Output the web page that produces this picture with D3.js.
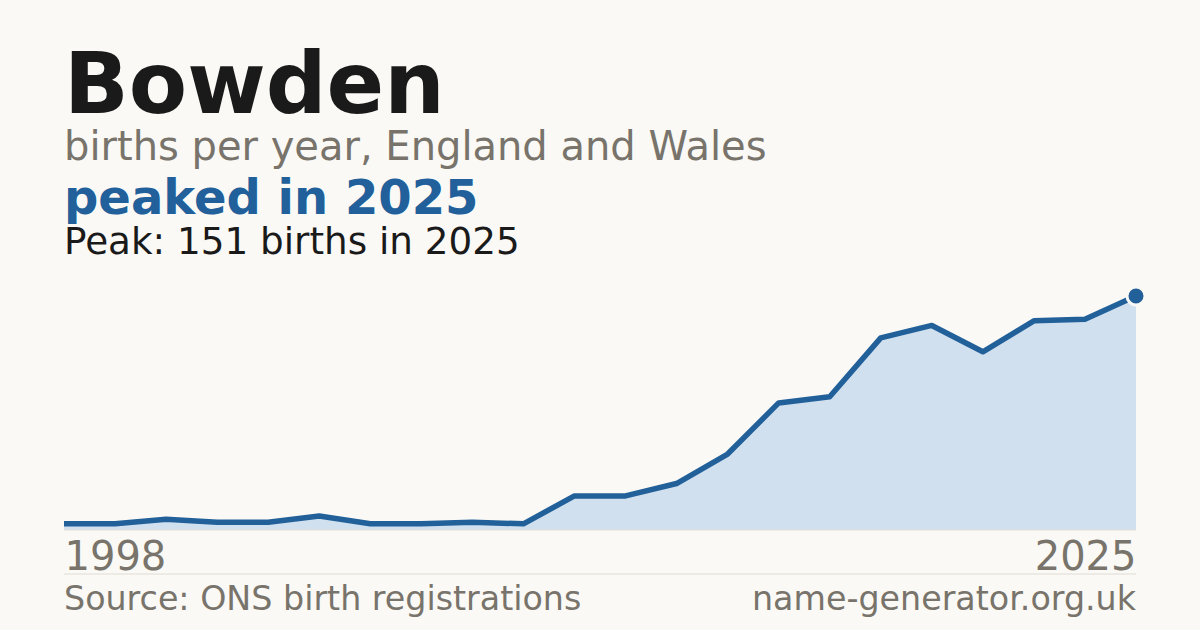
<!DOCTYPE html>
<html>
<head>
<meta charset="utf-8">
<script src="https://cdn.jsdelivr.net/npm/d3@7"></script>
<style>
  html, body { margin: 0; padding: 0; background: #faf9f5; }
  svg { display: block; font-family: 'DejaVu Sans', sans-serif; }
</style>
</head>
<body>
<svg width="1200" height="630"></svg>
<script>
const w = 1200;
const h = 630;
const left = 64;
const right = 1136;
const baseY = 530;
const topY = 296;

// years shown on the chart (only the first and last get a label)
const years = [1998, 2000, 2002, 2004, 2006, 2008, 2010, 2011, 2012, 2013, 2014,
  2015, 2016, 2017, 2018, 2019, 2020, 2021, 2022, 2023, 2024, 2025];
const births = [4, 4, 7, 5, 5, 9, 4, 4, 5, 4, 22, 22, 30, 49, 82, 86, 124, 132, 115, 135, 136, 151];
const tickYears = [1998, 2025];

const title = 'Bowden';
const subtitle = 'births per year, England and Wales';
const headline = 'peaked in 2025';
const peakNote = 'Peak: 151 births in 2025';

const canvas = d3.select('svg').attr('width', w).attr('height', h);

canvas.append('rect').attr('width', w).attr('height', h).attr('fill', '#faf9f5');

const xScale = d3.scalePoint().domain(years).range([left, right]);
const yScale = d3.scaleLinear().domain([0, d3.max(births)]).range([baseY, topY]);

const data = years.map((y, i) => ({ year: y, value: births[i] }));

// headings
canvas.append('text').attr('x', left).attr('y', 113)
  .attr('font-size', 85).attr('font-weight', 'bold').attr('fill', '#1a1a1a').text(title);
canvas.append('text').attr('x', left).attr('y', 160)
  .attr('font-size', 40).attr('fill', '#78736b').text(subtitle);
canvas.append('text').attr('x', left).attr('y', 214)
  .attr('font-size', 48).attr('font-weight', 'bold').attr('fill', '#21609a').text(headline);
canvas.append('text').attr('x', left).attr('y', 254)
  .attr('font-size', 37.3).attr('fill', '#1a1a1a').text(peakNote);

// area + line
const area = d3.area()
  .x((d) => xScale(d.year))
  .y0(baseY)
  .y1((d) => yScale(d.value));

const line = d3.line()
  .x((d) => xScale(d.year))
  .y((d) => yScale(d.value));

canvas.append('path').datum(data).attr('d', area).attr('fill', '#d0e0ef');

canvas.append('line')
  .attr('x1', left).attr('x2', right).attr('y1', baseY).attr('y2', baseY)
  .attr('stroke', '#e6e1d8').attr('stroke-width', 1);

canvas.append('path').datum(data).attr('d', line)
  .attr('fill', 'none').attr('stroke', '#22609a').attr('stroke-width', 5.5)
  .attr('stroke-linejoin', 'round');

// peak marker
const peak = data[d3.maxIndex(data, (d) => d.value)];
canvas.append('circle')
  .attr('cx', xScale(peak.year)).attr('cy', yScale(peak.value)).attr('r', 9)
  .attr('fill', '#22609a').attr('stroke', '#faf9f5').attr('stroke-width', 3);

// x axis labels (first and last year only)
const xAxis = d3.axisBottom(xScale).tickValues(tickYears).tickSize(0).tickPadding(0);
const gx = canvas.append('g').attr('transform', `translate(0, ${baseY})`).call(xAxis);
gx.select('.domain').remove();
gx.selectAll('text')
  .attr('font-family', 'DejaVu Sans, sans-serif')
  .attr('font-size', 40)
  .attr('fill', '#78736b')
  .attr('dy', null)
  .attr('y', 40)
  .attr('text-anchor', (d, i) => (i === 0 ? 'start' : 'end'));

// footer
canvas.append('line')
  .attr('x1', left).attr('x2', right).attr('y1', 574).attr('y2', 574)
  .attr('stroke', '#e0dcd4').attr('stroke-width', 1);
canvas.append('text').attr('x', left).attr('y', 610)
  .attr('font-size', 33.3).attr('fill', '#78736b').text('Source: ONS birth registrations');
canvas.append('text').attr('x', right).attr('y', 610).attr('text-anchor', 'end')
  .attr('font-size', 33.3).attr('fill', '#78736b').text('name-generator.org.uk');
</script>
</body>
</html>
